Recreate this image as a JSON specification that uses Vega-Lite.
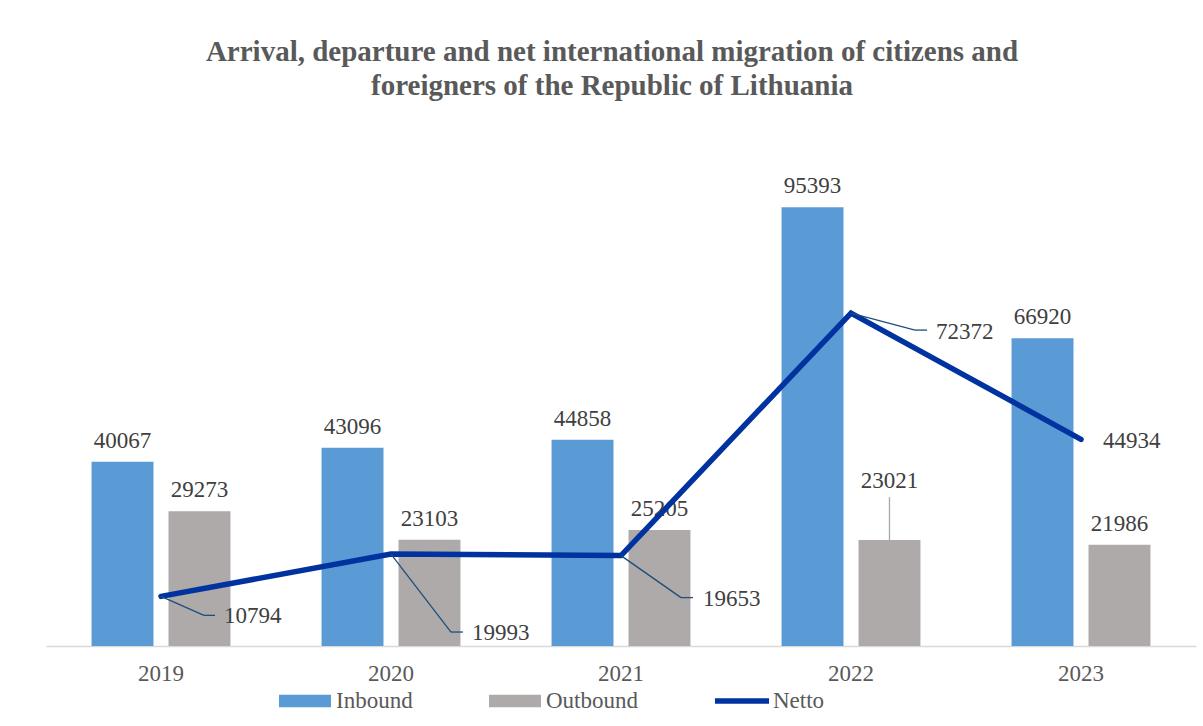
{
  "$schema": "https://vega.github.io/schema/vega-lite/v6.json",
  "width": 1150,
  "height": 506,
  "autosize": {"type": "none"},
  "padding": {"left": 46, "top": 140, "right": 7, "bottom": 80},
  "background": "#ffffff",
  "config": {"view": {"stroke": null}, "font": "Liberation Serif"},
  "title": {
    "text": ["Arrival, departure and net international migration of citizens and", "foreigners of the Republic of Lithuania"],
    "font": "Liberation Serif",
    "fontSize": 29,
    "fontWeight": "bold",
    "color": "#595959",
    "anchor": "middle",
    "frame": "group",
    "offset": 39,
    "lineHeight": 34,
    "dx": -9
  },
  "data": {
    "values": [
      {"year": "2019", "series": "Inbound", "value": 40067},
      {"year": "2019", "series": "Outbound", "value": 29273},
      {"year": "2019", "series": "Netto", "value": 10794},
      {"year": "2020", "series": "Inbound", "value": 43096},
      {"year": "2020", "series": "Outbound", "value": 23103},
      {"year": "2020", "series": "Netto", "value": 19993},
      {"year": "2021", "series": "Inbound", "value": 44858},
      {"year": "2021", "series": "Outbound", "value": 25205},
      {"year": "2021", "series": "Netto", "value": 19653},
      {"year": "2022", "series": "Inbound", "value": 95393},
      {"year": "2022", "series": "Outbound", "value": 23021},
      {"year": "2022", "series": "Netto", "value": 72372},
      {"year": "2023", "series": "Inbound", "value": 66920},
      {"year": "2023", "series": "Outbound", "value": 21986},
      {"year": "2023", "series": "Netto", "value": 44934}
    ]
  },
  "encoding": {
    "x": {
      "field": "year",
      "type": "nominal",
      "scale": {"paddingInner": 0.396, "paddingOuter": 0.198},
      "axis": {
        "title": null,
        "labelAngle": 0,
        "ticks": false,
        "tickSize": 0,
        "grid": false,
        "domainColor": "#D9D9D9",
        "domainWidth": 1.5,
        "labelFont": "Liberation Serif",
        "labelFontSize": 23,
        "labelColor": "#595959",
        "labelPadding": 16
      }
    },
    "y": {"field": "value", "type": "quantitative", "scale": {"domain": [0, 110000]}, "axis": null}
  },
  "layer": [
    {
      "transform": [{"filter": "datum.series != 'Netto'"}],
      "mark": {"type": "bar"},
      "encoding": {
        "xOffset": {"field": "series", "type": "nominal", "scale": {"domain": ["Inbound", "Outbound"], "paddingInner": 0.195, "paddingOuter": 0}},
        "color": {
          "field": "series",
          "type": "nominal",
          "scale": {"domain": ["Inbound", "Outbound", "Netto"], "range": ["#5B9BD5", "#AEAAAA", "#0033A0"]},
          "legend": {
            "title": null,
            "orient": "none",
            "direction": "horizontal",
            "legendX": 233,
            "legendY": 535,
            "padding": 0,
            "symbolType": "M-1,-0.24H1V0.24H-1Z",
            "symbolSize": 2704,
            "symbolStrokeWidth": 0,
            "labelFont": "Liberation Serif",
            "labelFontSize": 23,
            "labelColor": "#595959",
            "labelOffset": 5,
            "columnPadding": 76,
            "encode": {
              "symbols": {
                "update": {
                  "fill": {"scale": "color", "field": "value"},
                  "stroke": {"value": "transparent"},
                  "strokeWidth": {"value": 0},
                  "shape": {"signal": "datum.value === 'Netto' ? 'M-1.04,-0.11H1.04V0.11H-1.04Z' : 'M-1,-0.24H1V0.24H-1Z'"}
                }
              }
            }
          }
        }
      }
    },
    {
      "transform": [{"filter": "datum.series == 'Inbound'"}],
      "mark": {"type": "text", "baseline": "alphabetic", "dy": -14, "fontSize": 23, "color": "#404040", "font": "Liberation Serif"},
      "encoding": {
        "xOffset": {"field": "series", "type": "nominal"},
        "text": {"field": "value", "type": "quantitative", "format": "d"}
      }
    },
    {
      "transform": [{"filter": "datum.series == 'Outbound' && datum.year != '2022'"}],
      "mark": {"type": "text", "baseline": "alphabetic", "dy": -14, "fontSize": 23, "color": "#404040", "font": "Liberation Serif"},
      "encoding": {
        "xOffset": {"field": "series", "type": "nominal"},
        "text": {"field": "value", "type": "quantitative", "format": "d"}
      }
    },
    {
      "transform": [{"filter": "datum.series == 'Outbound' && datum.year == '2022'"}],
      "mark": {"type": "text", "baseline": "alphabetic", "dy": -52, "fontSize": 23, "color": "#404040", "font": "Liberation Serif"},
      "encoding": {
        "xOffset": {"field": "series", "type": "nominal"},
        "text": {"field": "value", "type": "quantitative", "format": "d"}
      }
    },
    {
      "transform": [{"filter": "datum.series == 'Outbound' && datum.year == '2022'"}],
      "mark": {"type": "rule", "y2Offset": -43, "color": "#A6A6A6", "strokeWidth": 1.3},
      "encoding": {
        "xOffset": {"field": "series", "type": "nominal"},
        "y2": {"field": "value"}
      }
    },
    {
      "transform": [{"filter": "datum.series == 'Netto'"}],
      "mark": {"type": "line", "strokeWidth": 5.5, "strokeCap": "round"},
      "encoding": {
        "color": {"field": "series", "type": "nominal"}
      }
    },
    {
      "transform": [{"filter": "datum.series == 'Netto' && datum.year == '2019'"}],
      "mark": {"type": "rule", "color": "#1F4E79", "strokeWidth": 1.3, "x2Offset": 43, "y2Offset": 19},
      "encoding": {"x": {"field": "year", "type": "nominal", "bandPosition": 0.5}, "x2": {"field": "year", "bandPosition": 0.5}, "y2": {"field": "value"}}
    },
    {
      "transform": [{"filter": "datum.series == 'Netto' && datum.year == '2019'"}],
      "mark": {"type": "rule", "color": "#1F4E79", "strokeWidth": 1.3, "xOffset": 43, "x2Offset": 54, "yOffset": 19, "y2Offset": 19},
      "encoding": {"x": {"field": "year", "type": "nominal", "bandPosition": 0.5}, "x2": {"field": "year", "bandPosition": 0.5}, "y2": {"field": "value"}}
    },
    {
      "transform": [{"filter": "datum.series == 'Netto' && datum.year == '2019'"}],
      "mark": {"type": "text", "align": "left", "baseline": "middle", "dx": 63, "dy": 20, "fontSize": 23, "color": "#404040", "font": "Liberation Serif"},
      "encoding": {"text": {"field": "value", "type": "quantitative", "format": "d"}}
    },
    {
      "transform": [{"filter": "datum.series == 'Netto' && datum.year == '2020'"}],
      "mark": {"type": "rule", "color": "#1F4E79", "strokeWidth": 1.3, "x2Offset": 60, "y2Offset": 78},
      "encoding": {"x": {"field": "year", "type": "nominal", "bandPosition": 0.5}, "x2": {"field": "year", "bandPosition": 0.5}, "y2": {"field": "value"}}
    },
    {
      "transform": [{"filter": "datum.series == 'Netto' && datum.year == '2020'"}],
      "mark": {"type": "rule", "color": "#1F4E79", "strokeWidth": 1.3, "xOffset": 60, "x2Offset": 72, "yOffset": 78, "y2Offset": 78},
      "encoding": {"x": {"field": "year", "type": "nominal", "bandPosition": 0.5}, "x2": {"field": "year", "bandPosition": 0.5}, "y2": {"field": "value"}}
    },
    {
      "transform": [{"filter": "datum.series == 'Netto' && datum.year == '2020'"}],
      "mark": {"type": "text", "align": "left", "baseline": "middle", "dx": 81, "dy": 79, "fontSize": 23, "color": "#404040", "font": "Liberation Serif"},
      "encoding": {"text": {"field": "value", "type": "quantitative", "format": "d"}}
    },
    {
      "transform": [{"filter": "datum.series == 'Netto' && datum.year == '2021'"}],
      "mark": {"type": "rule", "color": "#1F4E79", "strokeWidth": 1.3, "x2Offset": 60, "y2Offset": 42},
      "encoding": {"x": {"field": "year", "type": "nominal", "bandPosition": 0.5}, "x2": {"field": "year", "bandPosition": 0.5}, "y2": {"field": "value"}}
    },
    {
      "transform": [{"filter": "datum.series == 'Netto' && datum.year == '2021'"}],
      "mark": {"type": "rule", "color": "#1F4E79", "strokeWidth": 1.3, "xOffset": 60, "x2Offset": 72, "yOffset": 42, "y2Offset": 42},
      "encoding": {"x": {"field": "year", "type": "nominal", "bandPosition": 0.5}, "x2": {"field": "year", "bandPosition": 0.5}, "y2": {"field": "value"}}
    },
    {
      "transform": [{"filter": "datum.series == 'Netto' && datum.year == '2021'"}],
      "mark": {"type": "text", "align": "left", "baseline": "middle", "dx": 82, "dy": 43, "fontSize": 23, "color": "#404040", "font": "Liberation Serif"},
      "encoding": {"text": {"field": "value", "type": "quantitative", "format": "d"}}
    },
    {
      "transform": [{"filter": "datum.series == 'Netto' && datum.year == '2022'"}],
      "mark": {"type": "rule", "color": "#1F4E79", "strokeWidth": 1.3, "x2Offset": 64, "y2Offset": 17},
      "encoding": {"x": {"field": "year", "type": "nominal", "bandPosition": 0.5}, "x2": {"field": "year", "bandPosition": 0.5}, "y2": {"field": "value"}}
    },
    {
      "transform": [{"filter": "datum.series == 'Netto' && datum.year == '2022'"}],
      "mark": {"type": "rule", "color": "#1F4E79", "strokeWidth": 1.3, "xOffset": 64, "x2Offset": 76, "yOffset": 17, "y2Offset": 17},
      "encoding": {"x": {"field": "year", "type": "nominal", "bandPosition": 0.5}, "x2": {"field": "year", "bandPosition": 0.5}, "y2": {"field": "value"}}
    },
    {
      "transform": [{"filter": "datum.series == 'Netto' && datum.year == '2022'"}],
      "mark": {"type": "text", "align": "left", "baseline": "middle", "dx": 85, "dy": 19, "fontSize": 23, "color": "#404040", "font": "Liberation Serif"},
      "encoding": {"text": {"field": "value", "type": "quantitative", "format": "d"}}
    },
    {
      "transform": [{"filter": "datum.series == 'Netto' && datum.year == '2023'"}],
      "mark": {"type": "text", "align": "left", "baseline": "middle", "dx": 22, "dy": 2, "fontSize": 23, "color": "#404040", "font": "Liberation Serif"},
      "encoding": {"text": {"field": "value", "type": "quantitative", "format": "d"}}
    }
  ]
}
